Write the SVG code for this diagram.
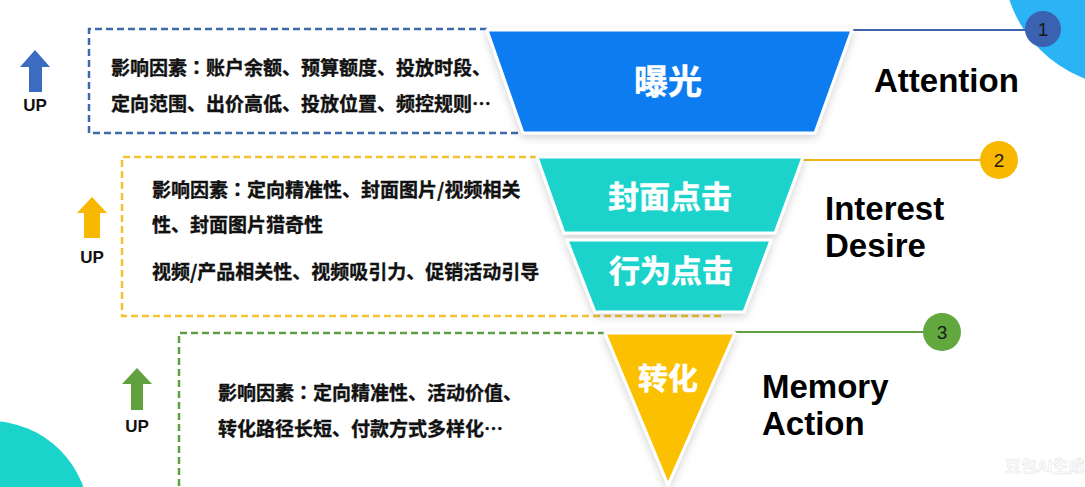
<svg xmlns="http://www.w3.org/2000/svg" width="1085" height="487" viewBox="0 0 1085 487">
<defs>
<filter id="sh" x="-20%" y="-20%" width="140%" height="140%">
<feDropShadow dx="0" dy="3" stdDeviation="4" flood-color="#000" flood-opacity="0.18"/>
</filter>
<style>
.box{fill:none;stroke-width:2.5;stroke-dasharray:7 4}
.cn{font-family:"Noto Sans CJK SC","Noto Sans",sans-serif;font-weight:700;font-size:19px;fill:#111;stroke:#111;stroke-width:0.35}
.col{font-family:"Noto Sans CJK TC","Noto Sans CJK SC",sans-serif}
.ttl{font-family:"Noto Sans CJK SC","Noto Sans",sans-serif;font-weight:700;fill:#fff;stroke:#fff;stroke-width:0.5;text-anchor:middle}
.en{font-family:"Liberation Sans",Arial,sans-serif;font-weight:700;font-size:33px;fill:#000}
.up{font-family:"Liberation Sans",Arial,sans-serif;font-weight:700;font-size:17px;fill:#111;text-anchor:middle}
.num{font-family:"Liberation Sans",Arial,sans-serif;font-size:19px;fill:#1a1a1a;text-anchor:middle}
.tr{stroke:#fff;stroke-width:3;stroke-linejoin:round;filter:url(#sh)}
</style>
</defs>
<rect width="1085" height="487" fill="#ffffff"/>
<circle cx="1130" cy="-40" r="127" fill="#2ab4f6"/>
<circle cx="-10" cy="520" r="99" fill="#1ad3cb"/>

<g id="connectors">
<line x1="852" y1="30" x2="1030" y2="30" stroke="#3f62aa" stroke-width="2"/>
<line x1="803" y1="160" x2="985" y2="160" stroke="#efb51c" stroke-width="2"/>
<line x1="735" y1="332" x2="928" y2="332" stroke="#5e9e42" stroke-width="2"/>
</g>

<g id="stage1">
<path class="box" d="M487,29 H89 V133 H523" stroke="#3d6aa8"/>
<g id="up1">
<polygon points="35,50 50,67 42,67 42,92 29,92 29,67 20,67" fill="#3b6cc2"/>
<text class="up" x="35" y="111">UP</text>
</g>
<text class="cn" x="111" y="75">影响因素<tspan class="col">：</tspan>账户余额、预算额度、投放时段、</text>
<text class="cn" x="111" y="111">定向范围、出价高低、投放位置、频控规则…</text>
<polygon class="tr" points="487,30 852,30 815,133 523,133" fill="#0b7cf0"/>
<text class="ttl" x="668" y="94" font-size="34">曝光</text>
<text class="en" x="874" y="92">Attention</text>
<g id="n1">
<circle cx="1043" cy="29" r="18" fill="#3b62b1"/>
<text class="num" x="1043" y="36">1</text>
</g>
</g>

<g id="stage2">
<path class="box" d="M537,157 H122 V316 H722" stroke="#f2c233"/>
<g id="up2">
<polygon points="92,197 107,213 100,213 100,238 84,238 84,213 77,213" fill="#f8b800"/>
<text class="up" x="92" y="263">UP</text>
</g>
<text class="cn" x="152" y="197">影响因素<tspan class="col">：</tspan>定向精准性、封面图片/视频相关</text>
<text class="cn" x="152" y="232">性、封面图片猎奇性</text>
<text class="cn" x="152" y="279">视频/产品相关性、视频吸引力、促销活动引导</text>
<polygon class="tr" points="537,157 803,157 775,233 564,233" fill="#1ad3cb"/>
<text class="ttl" x="670" y="208" font-size="31">封面点击</text>
<polygon class="tr" points="567,240 771,240 744,312 595,312" fill="#1ad3cb"/>
<text class="ttl" x="671" y="282" font-size="31">行为点击</text>
<text class="en" x="825" y="220">Interest</text>
<text class="en" x="825" y="257">Desire</text>
<g id="n2">
<circle cx="999" cy="160" r="19" fill="#f8b800"/>
<text class="num" x="999" y="167">2</text>
</g>
</g>

<g id="stage3">
<path class="box" d="M605,333 H179 V492" stroke="#5e9e45"/>
<g id="up3">
<polygon points="137,368 152,384 143,384 143,410 131,410 131,384 122,384" fill="#61a23e"/>
<text class="up" x="137" y="432">UP</text>
</g>
<text class="cn" x="218" y="400">影响因素<tspan class="col">：</tspan>定向精准性、活动价值、</text>
<text class="cn" x="218" y="436">转化路径长短、付款方式多样化…</text>
<polygon class="tr" points="605,333 735,333 668,485" fill="#fbc004"/>
<text class="ttl" x="668" y="389" font-size="30">转化</text>
<text class="en" x="762" y="398">Memory</text>
<text class="en" x="762" y="435">Action</text>
<g id="n3">
<circle cx="942" cy="332" r="19" fill="#62a83e"/>
<text class="num" x="942" y="339">3</text>
</g>
</g>

<text x="1005" y="472" font-family="'Noto Sans CJK SC',sans-serif" font-size="16" font-weight="700" fill="#ffffff" stroke="#e6e6e6" stroke-width="0.6">豆包AI生成</text>
</svg>
